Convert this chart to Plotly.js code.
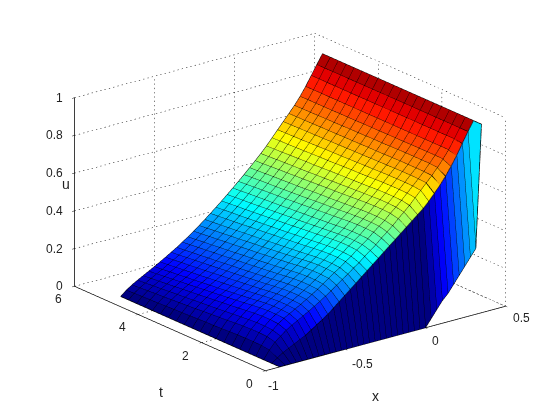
<!DOCTYPE html>
<html><head><meta charset="utf-8">
<script src="https://cdn.plot.ly/plotly-3.0.1.min.js"></script>
<style>html,body{margin:0;padding:0;background:#fff}#c{width:560px;height:420px}</style>
</head><body><div id="c"></div>
<script>
const xGrid=[-0.91,-0.875,-0.84,-0.805,-0.77,-0.735,-0.7,-0.665,-0.63,-0.595,-0.56,-0.525,-0.49,-0.455,-0.42,-0.385,-0.35,-0.315,-0.28,-0.245,-0.21,-0.175,-0.14,-0.105,-0.07,-0.035,0,0.035,0.07,0.105,0.14,0.175,0.21,0.245,0.28,0.315,0.35];
const tGrid=[0,0.25,0.5,0.75,1,1.25,1.5,1.75,2,2.25,2.5,2.75,3,3.25,3.5,3.75,4,4.25,4.5,4.75,5];
// u in percent, one row per t, one value per x
const uRows=[
[0,0,0,0,0,0,0,0,0,0,0,0,0,0,0,0,0,0,0,0,0,0,0,0,0,0,0,4,8,12,15,19,23,27,31,35,100],
[0,2,4,5.5,7,8.5,10,12,14,16,18,20.5,23,25.5,28,30.5,33,35.5,38,40.5,43,45.5,48,50.5,53,55.5,58,60.5,63.5,67,70.5,74.5,79,84,89.5,95,100],
[0,4.3,7.7,10.1,12.4,14.3,15.9,17.6,19.3,21.1,22.9,24.9,26.9,29.1,31.3,33.4,35.8,37.9,40.4,42.7,45,47.7,50.2,52.7,55.6,58.3,61.1,64.3,67.4,70.6,73.7,77.2,80.9,85,90,95,100],
[0,4.9,8.8,11.4,14,16.1,17.7,19.4,21.1,22.9,24.7,26.7,28.7,30.9,33.1,35,37.4,39.4,41.9,44,46.3,49,51.3,53.7,56.6,59.1,61.9,64.9,67.9,70.9,74,77.5,81,85,90,95,100],
[0,5,9,11.7,14.3,16.4,18,19.7,21.4,23.2,25,27,29,31.2,33.4,35.3,37.7,39.7,42.2,44.3,46.5,49.2,51.5,53.9,56.8,59.3,62,65,68,71,74,77.5,81,85,90,95,100],
[0,5,9,11.7,14.3,16.4,18,19.7,21.4,23.2,25,27,29,31.2,33.4,35.3,37.7,39.7,42.2,44.3,46.5,49.2,51.5,53.9,56.8,59.3,62,65,68,71,74,77.5,81,85,90,95,100],
[0,4.9,8.8,11.4,14,16.1,17.7,19.4,21.1,22.9,24.7,26.7,28.7,30.9,33.1,35,37.4,39.4,41.9,44,46.3,49,51.3,53.7,56.6,59.1,61.9,64.9,67.9,70.9,74,77.5,81,85,90,95,100],
[0,4.7,8.5,11,13.5,15.6,17.2,18.9,20.6,22.4,24.2,26.2,28.2,30.4,32.6,34.5,36.9,39,41.5,43.6,45.9,48.6,51,53.4,56.3,58.9,61.6,64.7,67.8,70.8,73.9,77.4,80.9,85,90,95,100],
[0,4.5,8.1,10.6,13,15,16.6,18.3,20,21.8,23.6,25.6,27.6,29.8,32,34,36.4,38.5,41,43.2,45.5,48.2,50.6,53.1,56,58.6,61.4,64.5,67.6,70.7,73.8,77.3,80.9,85,90,95,100],
[0,4.3,7.8,10.2,12.5,14.5,16.1,17.8,19.5,21.3,23.1,25.1,27.1,29.3,31.5,33.5,35.9,38.1,40.6,42.8,45.2,47.9,50.3,52.8,55.7,58.4,61.2,64.3,67.5,70.6,73.7,77.2,80.9,85,90,95,100],
[0,4.2,7.5,9.8,12.1,14,15.6,17.3,19,20.8,22.6,24.6,26.6,28.8,31,33.1,35.5,37.7,40.2,42.4,44.8,47.5,50,52.5,55.4,58.1,61,64.2,67.3,70.5,73.7,77.2,80.8,85,90,95,100],
[0,4,7.2,9.4,11.6,13.5,15.1,16.8,18.5,20.3,22.1,24.1,26.1,28.3,30.5,32.6,35,37.2,39.7,42,44.5,47.2,49.7,52.3,55.2,57.9,60.8,64,67.2,70.4,73.6,77.1,80.8,85,90,95,100],
[0,3.8,6.8,9.1,11.2,13,14.6,16.3,18,19.8,21.6,23.6,25.6,27.8,30,32.2,34.6,36.8,39.3,41.7,44.1,46.8,49.3,52,54.9,57.6,60.6,63.8,67,70.3,73.5,77,80.8,85,90,95,100],
[0,3.6,6.5,8.7,10.7,12.6,14.2,15.9,17.6,19.4,21.2,23.2,25.2,27.4,29.6,31.7,34.1,36.4,38.9,41.3,43.8,46.5,49,51.7,54.6,57.4,60.4,63.6,66.9,70.2,73.5,77,80.7,85,90,95,100],
[0,3.5,6.2,8.3,10.3,12.1,13.7,15.4,17.1,18.9,20.7,22.7,24.7,26.9,29.1,31.3,33.7,36,38.5,40.9,43.4,46.1,48.7,51.4,54.3,57.1,60.1,63.5,66.8,70.1,73.4,76.9,80.7,85,90,95,100],
[0,3.3,5.9,8,9.9,11.6,13.2,14.9,16.6,18.4,20.2,22.2,24.2,26.4,28.6,30.9,33.3,35.6,38.1,40.6,43.1,45.8,48.4,51.2,54.1,56.9,60,63.3,66.6,70,73.3,76.8,80.7,85,90,95,100],
[0,3.1,5.6,7.6,9.4,11.2,12.8,14.5,16.2,18,19.8,21.8,23.8,26,28.2,30.4,32.8,35.2,37.7,40.2,42.8,45.5,48.1,50.9,53.8,56.7,59.8,63.1,66.5,69.9,73.3,76.8,80.6,85,90,95,100],
[0,3,5.4,7.2,9,10.7,12.3,14,15.7,17.5,19.3,21.3,23.3,25.5,27.7,30,32.4,34.8,37.3,39.8,42.5,45.2,47.9,50.7,53.6,56.5,59.6,63,66.3,69.8,73.2,76.7,80.6,85,90,95,100],
[0,2.8,5.1,6.9,8.6,10.3,11.9,13.6,15.3,17.1,18.9,20.9,22.9,25.1,27.3,29.6,32,34.5,37,39.5,42.2,44.9,47.6,50.4,53.3,56.3,59.4,62.8,66.2,69.7,73.1,76.6,80.6,85,90,95,100],
[0,2.7,4.8,6.5,8.2,9.8,11.4,13.1,14.8,16.6,18.4,20.4,22.4,24.6,26.8,29.2,31.6,34.1,36.6,39.2,41.8,44.5,47.3,50.1,53,56,59.2,62.7,66.1,69.6,73.1,76.6,80.6,85,90,95,100],
[0,2.5,4.5,6.2,7.8,9.4,11,12.7,14.4,16.2,18,20,22,24.2,26.4,28.8,31.2,33.7,36.2,38.8,41.5,44.2,47,49.9,52.8,55.8,59,62.5,66,69.5,73,76.5,80.5,85,90,95,100]
];
const xTicks=[-1,-0.5,0,0.5], xTickText=['-1','-0.5','0','0.5'];
const tTicks=[0,2,4,6], tTickText=['0','2','4','6'];
const zTicks=[0,0.2,0.4,0.6,0.8,1], zTickText=['0','0.2','0.4','0.6','0.8','1'];
const jet=[[0,'rgb(0,0,128)'],[0.125,'rgb(0,0,255)'],[0.375,'rgb(0,255,255)'],[0.625,'rgb(255,255,0)'],[0.875,'rgb(255,0,0)'],[1,'rgb(128,0,0)']];
const font={family:'Liberation Sans, Arial',size:12,color:'#222'};

const U=uRows.map(r=>r.map(p=>p/100));
const nx=xGrid.length,nt=tGrid.length;
const vx=[],vy=[],vz=[],fi=[],fj=[],fk=[],cell=[];
for(let j=0;j<nt;j++)for(let i=0;i<nx;i++){vx.push(xGrid[i]);vy.push(tGrid[j]);vz.push(U[j][i]);}
for(let j=0;j<nt-1;j++)for(let i=0;i<nx-1;i++){
  const a=j*nx+i,b=a+1,c=a+nx,d=c+1;
  fi.push(a,a);fj.push(b,d);fk.push(d,c);cell.push(U[j][i],U[j][i]);
}
const lx=[],ly=[],lz=[];
for(let j=0;j<nt;j++){for(let i=0;i<nx;i++){lx.push(xGrid[i]);ly.push(tGrid[j]);lz.push(U[j][i]);}lx.push(null);ly.push(null);lz.push(null);}
for(let i=0;i<nx;i++){for(let j=0;j<nt;j++){lx.push(xGrid[i]);ly.push(tGrid[j]);lz.push(U[j][i]);}lx.push(null);ly.push(null);lz.push(null);}

const x0=xTicks[0],x1=xTicks[3],t0=tTicks[0],t1=tTicks[3],z0=zTicks[0],z1=zTicks[5];
const gx=[],gy=[],gz=[];
function dotted(a,b,n){for(let k=0;k<n;k++){const f=k/n,g=(k+0.3)/n;
  gx.push(a[0]+(b[0]-a[0])*f,a[0]+(b[0]-a[0])*g,null);
  gy.push(a[1]+(b[1]-a[1])*f,a[1]+(b[1]-a[1])*g,null);
  gz.push(a[2]+(b[2]-a[2])*f,a[2]+(b[2]-a[2])*g,null);}}
const nX=56,nT=48,nZ=44;
zTicks.forEach(z=>{dotted([x0,t1,z],[x1,t1,z],nX);dotted([x1,t1,z],[x1,t0,z],nT);});
xTicks.forEach(x=>{dotted([x,t1,z0],[x,t1,z1],nZ);dotted([x,t0,z0],[x,t1,z0],nT);});
tTicks.forEach(t=>{dotted([x1,t,z0],[x1,t,z1],nZ);dotted([x0,t,z0],[x1,t,z0],nX);});

const traces=[
 {type:'scatter3d',mode:'lines',x:gx,y:gy,z:gz,line:{color:'#000',width:1},hoverinfo:'skip',showlegend:false,connectgaps:false},
 {type:'mesh3d',x:vx,y:vy,z:vz,i:fi,j:fj,k:fk,intensity:cell,intensitymode:'cell',colorscale:jet,cmin:0,cmax:1,showscale:false,flatshading:true,
  lighting:{ambient:1,diffuse:0,specular:0,fresnel:0,roughness:1},hoverinfo:'skip'},
 {type:'scatter3d',mode:'lines',x:lx,y:ly,z:lz,line:{color:'#000',width:1.5},hoverinfo:'skip',showlegend:false,connectgaps:false}
];
function ax(range,vals){return {range,tickvals:vals,tickmode:'array',showticklabels:false,showgrid:false,zeroline:false,showline:true,linecolor:'#000',linewidth:1.5,ticks:'outside',ticklen:3,tickcolor:'#000',title:{text:''},showbackground:false,showspikes:false};}
const ann=[];
function label(x,y,z,text,dx,dy,xa,size){ann.push({x,y,z,text,showarrow:false,xshift:dx,yshift:-dy,xanchor:xa||'center',yanchor:'middle',font:size?Object.assign({},font,{size}):font});}
zTicks.forEach((z,i)=>label(x0,t1,z,zTickText[i],-10,0,'right'));
tTicks.forEach((t,i)=>label(x0,t,z0,tTickText[i],-16,13));
xTicks.forEach((x,i)=>label(x,t0,z0,xTickText[i],[8,17,10,16][i],[15,15,13,12][i]));
label(-0.25,t0,z0,'x',-10,57,'center',14);
label(x0,3,z0,'t',-9,63,'center',14);
label(x0,t1,0.5,'u',-9,-8,'center',14);
const d=2;
const zoom=1.507;
Plotly.newPlot('c',traces,{
 width:560,height:420,margin:{l:0,r:0,t:0,b:0},paper_bgcolor:'#fff',showlegend:false,
 scene:{domain:{x:[0.036,1],y:[0.038,1]},aspectmode:'manual',aspectratio:{x:zoom,y:1.02*zoom,z:0.66*zoom},annotations:ann,
  camera:{projection:{type:'orthographic'},up:{x:0,y:0,z:1},center:{x:0,y:0,z:0},eye:{x:-0.577*d,y:-0.741*d,z:0.345*d}},
  xaxis:ax([x0,x1],xTicks),yaxis:ax([t0,t1],tTicks),zaxis:ax([z0,z1],zTicks)}
},{displayModeBar:false});
</script></body></html>
